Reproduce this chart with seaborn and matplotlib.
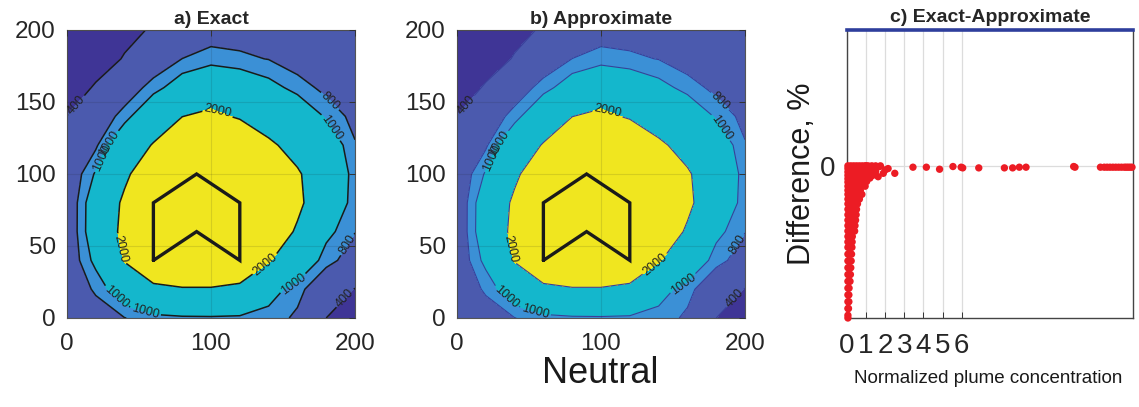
import numpy as np
import matplotlib
matplotlib.use('Agg')
import matplotlib.pyplot as plt
import seaborn as sns

# plume concentration, nodes every 20 m
grid_x = [0, 20, 40, 60, 80, 100, 120, 140, 160, 180, 200]
grid_y = [0, 20, 40, 60, 80, 100, 120, 140, 160, 180, 200]
conc_exact = [
    [600, 700, 795, 880, 940, 950, 930, 900, 760, 400, 250],
    [650, 828, 1250, 1850, 1930, 1930, 1820, 1142, 870, 600, 390],
    [580, 1083, 2050, 2600, 3000, 3000, 2700, 2074, 1370, 865, 700],
    [560, 1240, 2244, 3000, 3400, 3400, 3300, 2580, 1898, 1089, 805],
    [560, 1230, 2156, 2950, 3500, 3500, 3400, 2866, 2176, 1400, 860],
    [560, 1032, 1836, 2636, 3200, 3500, 3300, 2717, 2091, 1463, 870],
    [520, 757, 1375, 2062, 2700, 3000, 2900, 2145, 1699, 1254, 820],
    [405, 623, 885, 1383, 1990, 2210, 1900, 1576, 1269, 970, 714],
    [230, 432, 644, 890, 1190, 1400, 1290, 1102, 914, 725, 620],
    [150, 260, 420, 621, 802, 888, 842, 792, 661, 600, 540],
    [100, 180, 320, 430, 560, 680, 690, 640, 580, 530, 500],
]
# the approximate solution is indistinguishable at this scale
conc_approx = [row[:] for row in conc_exact]

levels = [400, 800, 1000, 2000]
fill_colors = ['#3f3596', '#4b5aae', '#3b90d6', '#14b7cc', '#f0e61f']

# building footprint (chevron)
chevron_x = [60, 60, 90, 120, 120, 90, 60]
chevron_y = [40, 80, 100, 80, 40, 60, 40]

# where the contour labels sit
label_spots = [(4, 150), (195, 12), (28, 122), (182, 150), (196, 50), (32, 12),
               (34, 112), (186, 134), (156, 26), (55, 6), (104, 142), (38, 48),
               (140, 34)]

# panel c: difference vs normalized concentration
wedge_depth = [0.0, -0.02, -0.045, -0.07, -0.095, -0.12, -0.15, -0.18, -0.21,
               -0.245, -0.28, -0.32, -0.36, -0.40, -0.44, -0.48, -0.52, -0.56,
               -0.60, -0.65, -0.70, -0.75, -0.80, -0.85, -0.90, -0.95, -1.00,
               -1.05, -1.10, -1.12]
wedge_rows = [
    [0.05, 0.2, 0.35, 0.5, 0.65, 0.8, 0.95, 1.1, 1.3, 1.5, 1.75],
    [0.05, 0.2, 0.35, 0.5, 0.65, 0.8, 0.95, 1.1, 1.3],
    [0.05, 0.2, 0.35, 0.5, 0.65, 0.8, 0.95, 1.15],
    [0.05, 0.2, 0.35, 0.5, 0.65, 0.8, 1.0, 1.25],
    [0.05, 0.2, 0.35, 0.5, 0.65, 0.8, 1.05],
    [0.05, 0.2, 0.35, 0.5, 0.65, 0.85],
    [0.05, 0.2, 0.35, 0.5, 0.7, 0.95],
    [0.05, 0.2, 0.35, 0.5, 0.7],
    [0.05, 0.2, 0.35, 0.5, 0.78],
    [0.05, 0.2, 0.35, 0.5, 0.65],
    [0.05, 0.2, 0.35, 0.55],
    [0.05, 0.2, 0.35, 0.5],
    [0.05, 0.2, 0.35, 0.48],
    [0.05, 0.18, 0.32, 0.45],
    [0.05, 0.18, 0.3, 0.42],
    [0.05, 0.17, 0.3, 0.4],
    [0.05, 0.16, 0.28],
    [0.05, 0.15, 0.27],
    [0.05, 0.15, 0.26],
    [0.05, 0.14, 0.24],
    [0.05, 0.14, 0.22],
    [0.05, 0.13, 0.2],
    [0.05, 0.12, 0.18],
    [0.05, 0.12, 0.16],
    [0.05, 0.11],
    [0.05, 0.1],
    [0.05, 0.1],
    [0.05, 0.08],
    [0.05],
    [0.05],
]
mid_x = [1.0, 1.2, 1.45, 1.7, 2.15, 1.9, 2.5, 1.63, 1.35, 1.03, 1.2, 0.9, 0.8, 0.7, 1.5, 2.0]
mid_y = [0.0, -0.005, -0.01, -0.005, -0.02, -0.055, -0.055, -0.08, -0.07, -0.115,
         -0.09, -0.06, -0.03, -0.09, -0.04, -0.03]
tail_x = [3.45, 4.15, 4.84, 5.54, 5.97, 6.05, 6.89, 8.23, 8.66, 9.01, 9.36, 11.85,
          11.92, 13.25, 13.45, 13.6, 13.75, 13.9, 14.05, 14.2, 14.35, 14.5, 14.6,
          14.7, 14.8, 14.9]
tail_y = [-0.01, -0.01, -0.025, -0.005, -0.01, -0.015, -0.015, -0.015, -0.015, -0.01,
          -0.01, -0.005, -0.01, -0.01, -0.01, -0.01, -0.01, -0.01, -0.01, -0.01,
          -0.01, -0.01, -0.01, -0.01, -0.01, -0.01]

sns.set_theme(style='white')
plt.rcParams['font.family'] = ['Liberation Sans', 'DejaVu Sans']

fig = plt.figure(figsize=(11.39, 4.07), dpi=100)
ax_a = fig.add_axes([0.0588, 0.2187, 0.2529, 0.7076])
ax_b = fig.add_axes([0.4012, 0.2187, 0.2529, 0.7076])
ax_c = fig.add_axes([0.7436, 0.2187, 0.2511, 0.7076])


def draw_field(ax, conc, title, line_color, line_width):
    X, Y = np.meshgrid(grid_x, grid_y)
    Z = np.array(conc, dtype=float)
    ax.contourf(X, Y, Z, levels=[0] + levels + [6000], colors=fill_colors)
    cs = ax.contour(X, Y, Z, levels=levels, colors=line_color, linewidths=line_width)
    ax.clabel(cs, fmt='%d', fontsize=9, colors='#222222', inline=True,
              inline_spacing=2, manual=label_spots)
    ax.plot(chevron_x, chevron_y, color='k', lw=2.4, solid_joinstyle='miter')
    ax.set_xlim(0, 200)
    ax.set_ylim(0, 200)
    ax.set_xticks([0, 100, 200])
    ax.set_yticks([0, 50, 100, 150, 200])
    ax.grid(True, color='k', alpha=0.12, lw=0.8)
    ax.set_axisbelow(False)
    ax.tick_params(direction='in', length=4, width=0.7, top=True, right=True,
                   labelsize=17.5, color='#333333')
    ax.tick_params(axis='x', pad=11)
    ax.tick_params(axis='y', pad=8)
    for sp in ax.spines.values():
        sp.set_color('#555555')
        sp.set_linewidth(0.8)
    ax.set_title(title, fontsize=14, fontweight='bold', pad=4)


draw_field(ax_a, conc_exact, 'a) Exact', 'k', 1.1)
draw_field(ax_b, conc_approx, 'b) Approximate', '#3a3f9a', 0.8)

# panel c
diff_x, diff_y = [], []
for depth, row in zip(wedge_depth, wedge_rows):
    diff_x += row
    diff_y += [depth] * len(row)
diff_x += mid_x + tail_x
diff_y += mid_y + tail_y

sns.scatterplot(x=diff_x, y=diff_y, ax=ax_c, color='#ec1c24', s=28,
                edgecolor='none', linewidth=0, clip_on=False, zorder=3)
ax_c.set_xlim(0, 14.95)
ax_c.set_ylim(-1.12, 1.0)
ax_c.set_xticks(range(7))
ax_c.set_yticks([0])
ax_c.grid(True, color='#dcdcdc', lw=0.9)
ax_c.set_axisbelow(True)
ax_c.tick_params(direction='in', length=4, width=0.7, labelsize=20,
                 color='#333333', bottom=True, left=False)
ax_c.tick_params(axis='x', pad=11)
ax_c.tick_params(axis='y', pad=8)
for name, sp in ax_c.spines.items():
    sp.set_color('#444444')
    sp.set_linewidth(1.0)
ax_c.spines['top'].set_color('#2e3e9c')
ax_c.spines['top'].set_linewidth(2.6)
ax_c.set_title('c) Exact-Approximate', fontsize=14, fontweight='bold', pad=6)

fig.text(0.704, 0.572, 'Difference, %', rotation=90, ha='center', va='center',
         fontsize=22, color='#1a1a1a')
fig.text(0.868, 0.071, 'Normalized plume concentration', ha='center', va='center',
         fontsize=13.5, color='#1a1a1a')
fig.text(0.527, 0.083, 'Neutral', ha='center', va='center', fontsize=26,
         color='#1a1a1a')

fig.savefig('out.png', dpi=100)
